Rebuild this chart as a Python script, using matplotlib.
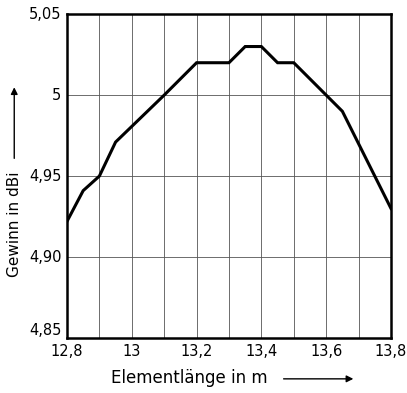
import matplotlib.pyplot as plt
import numpy as np

# element length (m) vs gain (dBi)
laenge = [12.8, 12.85, 12.9, 12.95, 13.1, 13.2, 13.3, 13.35, 13.4, 13.45, 13.5, 13.6, 13.65, 13.8]
gewinn = [4.922, 4.941, 4.95, 4.971, 5.0, 5.02, 5.02, 5.03, 5.03, 5.02, 5.02, 5.0, 4.99, 4.93]

x_ticks = [12.8, 13.0, 13.2, 13.4, 13.6, 13.8]
x_labels = ["12,8", "13", "13,2", "13,4", "13,6", "13,8"]
y_ticks = [4.85, 4.90, 4.95, 5.0, 5.05]
y_labels = ["4,85", "4,90", "4,95", "5", "5,05"]

plt.rcParams['font.family'] = ['DejaVu Sans']

fig = plt.figure(figsize=(4.07, 3.93), dpi=100)
ax = fig.add_axes([0.1646, 0.140, 0.796, 0.824])

ax.plot(laenge, gewinn, color="black", linewidth=2.2, solid_joinstyle="miter", zorder=3)

ax.set_xlim(12.8, 13.8)
ax.set_ylim(4.85, 5.05)

# grid every 0.1 in x, every 0.05 in y
for gx in np.arange(12.9, 13.75, 0.1):
    ax.axvline(gx, color="#555555", linewidth=0.6, zorder=1)
for gy in [4.90, 4.95, 5.0]:
    ax.axhline(gy, color="#555555", linewidth=0.6, zorder=1)

ax.set_xticks(x_ticks)
ax.set_xticklabels(x_labels)
ax.set_yticks(y_ticks)
ax.set_yticklabels(y_labels)
ax.tick_params(length=0, labelsize=10.5, pad=4)
for lbl in ax.get_yticklabels():
    lbl.set_verticalalignment("bottom" if lbl.get_text() == "4,85" else "center")

for s in ax.spines.values():
    s.set_linewidth(1.8)

# axis titles with arrows
fig.text(0.465, 0.038, "Elementlänge in m", ha="center", va="center", fontsize=12)
ax.annotate("", xy=(0.875, 0.036), xytext=(0.69, 0.036), xycoords="figure fraction",
            arrowprops=dict(arrowstyle="-|>", color="black", lw=1.0, mutation_scale=10))
fig.text(0.035, 0.43, "Gewinn in dBi", ha="center", va="center", rotation=90, fontsize=11)
ax.annotate("", xy=(0.035, 0.785), xytext=(0.035, 0.59), xycoords="figure fraction",
            arrowprops=dict(arrowstyle="-|>", color="black", lw=1.0, mutation_scale=10))

fig.savefig("out.png", dpi=100)
